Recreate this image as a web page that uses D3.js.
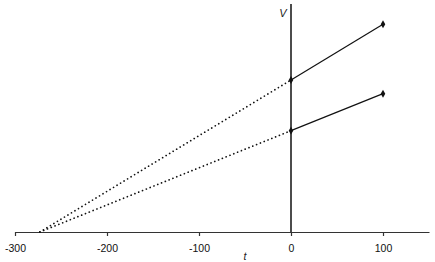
<!DOCTYPE html>
<html>
<head>
<meta charset="utf-8">
<script src="https://cdn.jsdelivr.net/npm/d3@7"></script>
<style>
  body { margin: 0; background: #fff; }
  text { font-family: "Liberation Sans", Arial, sans-serif; }
</style>
</head>
<body>
<svg id="chart" width="435" height="262"></svg>
<script>
// measured gas volumes at two temperatures, and their extrapolation to V = 0
const xTicks      = [-300, -200, -100, 0, 100];
const upperSolid  = [[0, 3.0], [100, 4.1]];
const lowerSolid  = [[0, 2.0], [100, 2.73]];
const upperDotted = [[-273, 0], [0, 3.0]];
const lowerDotted = [[-273, 0], [0, 2.0]];

const svg = d3.select("#chart");

const x = d3.scaleLinear().domain([-300, 150]).range([15, 429]);
const y = d3.scaleLinear().domain([0, 4.5]).range([232, 4]);

const line = d3.line().x(d => x(d[0])).y(d => y(d[1]));

// x axis
const axisX = svg.append("g")
    .attr("transform", `translate(0,${y(0)})`)
    .call(d3.axisBottom(x)
        .tickValues(xTicks)
        .tickFormat(d => String(d))
        .tickSize(4)
        .tickSizeOuter(0)
        .tickPadding(9));

axisX.select(".domain").attr("stroke", "#333").attr("stroke-width", 1.2);
axisX.selectAll(".tick line").attr("stroke", "#333").attr("stroke-width", 1.2);
axisX.selectAll(".tick text")
    .attr("font-size", 10.5)
    .attr("fill", "#111")
    .style("font-family", "'Liberation Sans', Arial, sans-serif");

// y axis: plain vertical line through t = 0
svg.append("line")
    .attr("x1", x(0)).attr("x2", x(0))
    .attr("y1", 4).attr("y2", y(0))
    .attr("stroke", "#111")
    .attr("stroke-width", 1.5);

// dotted extrapolations
[upperDotted, lowerDotted].forEach(series =>
{
    svg.append("path")
        .datum(series)
        .attr("d", line)
        .attr("fill", "none")
        .attr("stroke", "#111")
        .attr("stroke-width", 1.7)
        .attr("stroke-linecap", "round")
        .attr("stroke-dasharray", "0.1,4");
});

// solid measured lines with diamond markers
[upperSolid, lowerSolid].forEach(series =>
{
    svg.append("path")
        .datum(series)
        .attr("d", line)
        .attr("fill", "none")
        .attr("stroke", "#111")
        .attr("stroke-width", 1.2);

    svg.selectAll(null)
        .data(series)
        .enter().append("path")
        .attr("d", d3.symbol().type(d3.symbolDiamond).size(18))
        .attr("transform", d => `translate(${x(d[0])},${y(d[1])})`)
        .attr("fill", "#111");
});

// axis titles
svg.append("text")
    .attr("x", 283).attr("y", 17)
    .attr("text-anchor", "middle")
    .attr("font-size", 11)
    .attr("font-style", "italic")
    .attr("fill", "#222")
    .text("V");

svg.append("text")
    .attr("x", 245).attr("y", 260)
    .attr("text-anchor", "middle")
    .attr("font-size", 10.5)
    .attr("font-style", "italic")
    .attr("fill", "#222")
    .text("t");
</script>
</body>
</html>
